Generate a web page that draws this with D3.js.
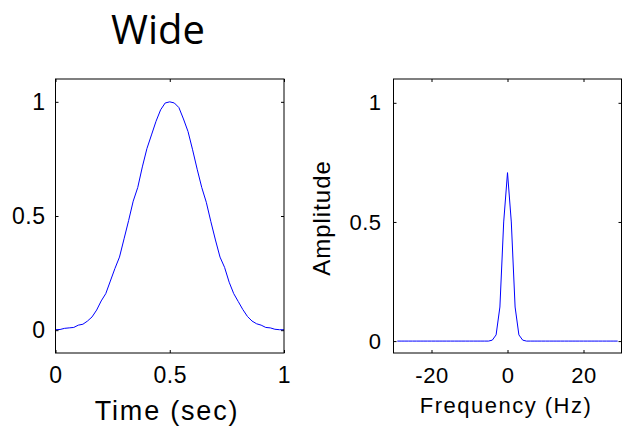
<!DOCTYPE html>
<html>
<head>
<meta charset="utf-8">
<script src="https://cdn.jsdelivr.net/npm/d3@7"></script>
<style>
  body { margin: 0; background: #fff; }
  svg { display: block; }
  .tick text { font-family: "Liberation Sans", Arial, Helvetica, sans-serif; letter-spacing: 0.5px; }
</style>
</head>
<body>
<svg id="chart"></svg>
<script>
// Time signal (left panel)
var timeSec = [0, 0.02, 0.04, 0.06, 0.08, 0.10, 0.12, 0.14, 0.16, 0.18, 0.20,
  0.22, 0.24, 0.26, 0.28, 0.30, 0.32, 0.34, 0.36, 0.38, 0.40,
  0.42, 0.44, 0.46, 0.48, 0.50, 0.52, 0.54, 0.56, 0.58, 0.60,
  0.62, 0.64, 0.66, 0.68, 0.70, 0.72, 0.74, 0.76, 0.78, 0.80,
  0.82, 0.84, 0.86, 0.88, 0.90, 0.92, 0.94, 0.96, 0.98, 1.0];
var signal = [0.002, 0.003, 0.008, 0.010, 0.012, 0.022, 0.026, 0.040, 0.058, 0.088, 0.128,
  0.160, 0.215, 0.270, 0.320, 0.400, 0.480, 0.565, 0.625, 0.715, 0.795,
  0.855, 0.915, 0.965, 0.995, 1.000, 0.995, 0.975, 0.925, 0.870, 0.790,
  0.705, 0.625, 0.560, 0.475, 0.395, 0.320, 0.275, 0.210, 0.160, 0.125,
  0.090, 0.060, 0.040, 0.028, 0.022, 0.012, 0.010, 0.004, 0.002, 0.002];

// Amplitude spectrum (right panel)
var freqHz = [-29, -28, -27, -26, -25, -24, -23, -22, -21, -20, -19, -18, -17, -16, -15,
  -14, -13, -12, -11, -10, -9, -8, -7, -6, -5, -4, -3, -2, -1, 0,
  1, 2, 3, 4, 5, 6, 7, 8, 9, 10, 11, 12, 13, 14, 15,
  16, 17, 18, 19, 20, 21, 22, 23, 24, 25, 26, 27, 28, 29];
var amplitude = [0, 0, 0, 0, 0, 0, 0, 0, 0, 0, 0, 0, 0, 0, 0,
  0, 0, 0, 0, 0, 0, 0, 0, 0, 0, 0.004, 0.026, 0.143, 0.50, 0.707,
  0.50, 0.143, 0.026, 0.004, 0, 0, 0, 0, 0, 0, 0, 0, 0, 0, 0,
  0, 0, 0, 0, 0, 0, 0, 0, 0, 0, 0, 0, 0, 0];

// Tick values
var timeTicks = [0, 0.5, 1];
var freqTicks = [-20, 0, 20];
var ampTicks = [0, 0.5, 1];

var width = 623,
    height = 434,
    plotTop = 79,
    plotBottom = 353;

var svg = d3.select("#chart")
  .attr("width", width)
  .attr("height", height);

// Title
svg.append("text")
  .attr("x", 158)
  .attr("y", 44)
  .attr("text-anchor", "middle")
  .style("font-family", "'Open Sans', sans-serif")
  .style("font-size", "40px")
  .attr("fill", "#000")
  .text("Wide");

// Draw one MATLAB style panel: box, inward ticks on all sides, blue line
function panel(opt) {
  var x = d3.scaleLinear().domain(opt.xDomain).range([opt.left, opt.right]);
  var y = d3.scaleLinear().domain(opt.yDomain).range([plotBottom, plotTop]);
  var g = svg.append("g");

  var fmt = function(d) { return d3.format("")(d).replace("−", "-"); };

  g.append("g")
    .attr("transform", "translate(0," + plotBottom + ")")
    .call(d3.axisBottom(x).tickValues(opt.xTicks).tickSizeInner(-3).tickSizeOuter(0)
      .tickPadding(opt.xPad).tickFormat(fmt))
    .call(function(a) { a.select(".domain").remove(); })
    .selectAll("text").style("font-size", opt.tickFont + "px");

  g.append("g")
    .attr("transform", "translate(0," + plotTop + ")")
    .call(d3.axisTop(x).tickValues(opt.xTicks).tickSizeInner(-3).tickSizeOuter(0).tickFormat(""))
    .call(function(a) { a.select(".domain").remove(); });

  g.append("g")
    .attr("transform", "translate(" + opt.left + ",0)")
    .call(d3.axisLeft(y).tickValues(opt.yTicks).tickSizeInner(-3).tickSizeOuter(0)
      .tickPadding(opt.yPad).tickFormat(fmt))
    .call(function(a) { a.select(".domain").remove(); })
    .selectAll("text").style("font-size", opt.tickFont + "px");

  g.append("g")
    .attr("transform", "translate(" + opt.right + ",0)")
    .call(d3.axisRight(y).tickValues(opt.yTicks).tickSizeInner(-3).tickSizeOuter(0).tickFormat(""))
    .call(function(a) { a.select(".domain").remove(); });

  g.selectAll(".tick line").attr("stroke", "#000");

  // Curve
  var line = d3.line()
    .x(function(d, i) { return x(opt.xs[i]); })
    .y(function(d) { return y(d); });

  g.append("path")
    .datum(opt.ys)
    .attr("d", line)
    .attr("fill", "none")
    .attr("stroke", "#0000ff")
    .attr("stroke-width", 1);

  // Box
  g.append("rect")
    .attr("x", opt.left)
    .attr("y", plotTop)
    .attr("width", opt.right - opt.left)
    .attr("height", plotBottom - plotTop)
    .attr("fill", "none")
    .attr("stroke", "#000")
    .attr("stroke-width", 1);

  return { x: x, y: y };
}

panel({
  left: 55.5, right: 284,
  xDomain: [0, 1], yDomain: [-0.1, 1.1],
  xTicks: timeTicks, yTicks: ampTicks,
  xs: timeSec, ys: signal,
  tickFont: 23, xPad: 14, yPad: 10
});

panel({
  left: 393.5, right: 621.5,
  xDomain: [-30, 30], yDomain: [-0.05, 1.1],
  xTicks: freqTicks, yTicks: ampTicks,
  xs: freqHz, ys: amplitude,
  tickFont: 22, xPad: 14, yPad: 12
});

// Axis labels
svg.append("text")
  .attr("x", 167)
  .attr("y", 420)
  .attr("text-anchor", "middle")
  .style("font-family", "'Liberation Sans', Arial, sans-serif")
  .style("font-size", "27px")
  .style("letter-spacing", "1.8px")
  .text("Time (sec)");

svg.append("text")
  .attr("x", 506)
  .attr("y", 413)
  .attr("text-anchor", "middle")
  .style("font-family", "'Liberation Sans', Arial, sans-serif")
  .style("font-size", "22px")
  .style("letter-spacing", "1.5px")
  .text("Frequency (Hz)");

svg.append("text")
  .attr("transform", "translate(330,218) rotate(-90)")
  .attr("text-anchor", "middle")
  .style("font-family", "'Liberation Sans', Arial, sans-serif")
  .style("font-size", "24px")
  .style("letter-spacing", "1px")
  .text("Amplitude");
</script>
</body>
</html>
